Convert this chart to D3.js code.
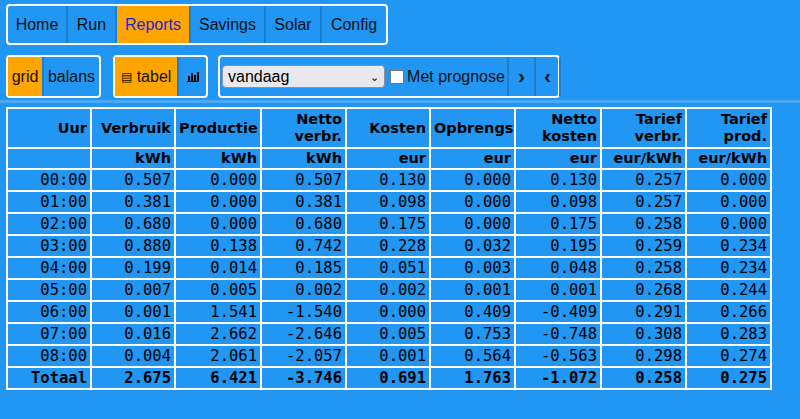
<!DOCTYPE html>
<html><head><meta charset="utf-8">
<script src="https://cdn.jsdelivr.net/npm/d3@7"></script>
<style>
body{margin:0;background:#2196f3;width:800px;height:419px;overflow:hidden;font-family:"Liberation Sans",Arial,sans-serif;}
.grp{position:absolute;border:2px solid #fff;border-radius:4px;display:flex;box-sizing:border-box;}
.btn{height:100%;display:flex;align-items:center;justify-content:center;font-size:16px;color:#111;border-right:2px solid #1a7fd0;box-sizing:border-box;flex:none;}
.on{background:#ffa500;}
table{position:absolute;left:6px;top:107px;border-collapse:collapse;border:2px solid #fff;table-layout:fixed;width:764px;}
td,th{border:2px solid #fff;padding:0 3px;text-align:right;color:#000;overflow:hidden;white-space:nowrap;}
th{font-family:"DejaVu Sans",sans-serif;font-size:14.5px;font-weight:bold;line-height:17px;}
td{font-family:"DejaVu Sans Mono",monospace;font-size:15.5px;height:20px;line-height:20px;}
tr.tot td{font-weight:bold;}
</style></head><body>
<div style="position:absolute;left:0;top:100px;width:800px;height:3px;background:#4aa8f5"></div>
<script>
const navItems = ["Home","Run","Reports","Savings","Solar","Config"];
const navWidths = [60,49,74,75,56,64];
const columns = ["Uur","Verbruik","Productie","Netto<br>verbr.","Kosten","Opbrengst","Netto<br>kosten","Tarief<br>verbr.","Tarief<br>prod."];
const units = ["","kWh","kWh","kWh","eur","eur","eur","eur/kWh","eur/kWh"];
const hours = ["00:00","01:00","02:00","03:00","04:00","05:00","06:00","07:00","08:00"];
const verbruik = [0.507,0.381,0.680,0.880,0.199,0.007,0.001,0.016,0.004];
const productie = [0.000,0.000,0.000,0.138,0.014,0.005,1.541,2.662,2.061];
const netto = [0.507,0.381,0.680,0.742,0.185,0.002,-1.540,-2.646,-2.057];
const kosten = [0.130,0.098,0.175,0.228,0.051,0.002,0.000,0.005,0.001];
const opbrengst = [0.000,0.000,0.000,0.032,0.003,0.001,0.409,0.753,0.564];
const nettoKosten = [0.130,0.098,0.175,0.195,0.048,0.001,-0.409,-0.748,-0.563];
const tariefVerbr = [0.257,0.257,0.258,0.259,0.258,0.268,0.291,0.308,0.298];
const tariefProd = [0.000,0.000,0.000,0.234,0.234,0.244,0.266,0.283,0.274];
const totals = ["Totaal",2.675,6.421,-3.746,0.691,1.763,-1.072,0.258,0.275];
const colWidths = [84,84,86,85,84,85,86,85,85];

const body = d3.select("body");

// top nav
const nav = body.append("div").attr("class","grp").style("left","6px").style("top","4px").style("width","382px").style("height","41px");
nav.selectAll("div").data(navItems).join("div")
  .attr("class", d => "btn" + (d === "Reports" ? " on" : ""))
  .style("width", (d,i) => navWidths[i] + "px")
  .style("color", d => d === "Reports" ? "#2323d6" : "#111")
  .style("border-right", (d,i) => i === navItems.length - 1 ? "none" : "2px solid #1a7fd0")
  .text(d => d);

// toolbar
const g1 = body.append("div").attr("class","grp").style("left","6px").style("top","55px").style("width","95px").style("height","43px");
g1.append("div").attr("class","btn on").style("width","36px").text("grid");
g1.append("div").attr("class","btn").style("width","55px").style("border","none").text("balans");

const g2 = body.append("div").attr("class","grp").style("left","113px").style("top","55px").style("width","95px").style("height","43px");
g2.append("div").attr("class","btn on").style("width","64px").html("<span style='font-size:12px;margin-right:5px'>&#9636;</span>tabel");
g2.append("div").attr("class","btn").style("width","27px").style("border","none")
  .html("<svg width='12' height='11'><rect x='0' y='10' width='12' height='1.5'/><rect x='1' y='5' width='2' height='5'/><rect x='4' y='2' width='2' height='8'/><rect x='7' y='4' width='2' height='6'/><rect x='10' y='1' width='2' height='9'/></svg>");

const g3 = body.append("div").attr("class","grp").style("left","218px").style("top","55px").style("width","342px").style("height","43px").style("align-items","center");
g3.append("div").style("margin-left","2px").style("width","163px").style("height","23px").style("background","#e9e9ed").style("flex","none")
  .style("border","1px solid #8f8f9d").style("border-radius","4px").style("font-size","16px").style("line-height","22px")
  .style("padding","0 5px").style("box-sizing","border-box").style("display","flex").style("justify-content","space-between")
  .html("<span>vandaag</span><span style='font-size:11px'>&#8964;</span>");
g3.append("div").style("width","12px").style("height","12px").style("background","#fff").style("border","1px solid #777").style("margin","0 1px 0 5px").style("flex","none");
g3.append("div").attr("class","btn").style("width","104px").text("Met prognose");
g3.append("div").attr("class","btn").style("width","27px").style("font-weight","bold").style("font-size","20px").html("&#8250;");
g3.append("div").attr("class","btn").style("width","25px").style("font-weight","bold").style("font-size","20px").html("&#8249;");

// table
const table = body.append("table");
const cg = table.append("colgroup");
cg.selectAll("col").data(colWidths).join("col").style("width", d => d + "px");
table.append("tr").style("height","40px").selectAll("th").data(columns).join("th").html(d => d);
table.append("tr").style("height","21px").selectAll("th").data(units).join("th").text(d => d);

const fmt = v => d3.format(".3f")(v).replace("\u2212", "-");
const rows = hours.map((h,i) => [h, verbruik[i], productie[i], netto[i], kosten[i], opbrengst[i], nettoKosten[i], tariefVerbr[i], tariefProd[i]]);
table.selectAll("tr.data").data(rows).join("tr").attr("class","data")
  .selectAll("td").data(d => d).join("td").text(d => typeof d === "number" ? fmt(d) : d);
table.append("tr").attr("class","tot").selectAll("td").data(totals).join("td")
  .text(d => typeof d === "number" ? fmt(d) : d);
</script>
</body></html>
